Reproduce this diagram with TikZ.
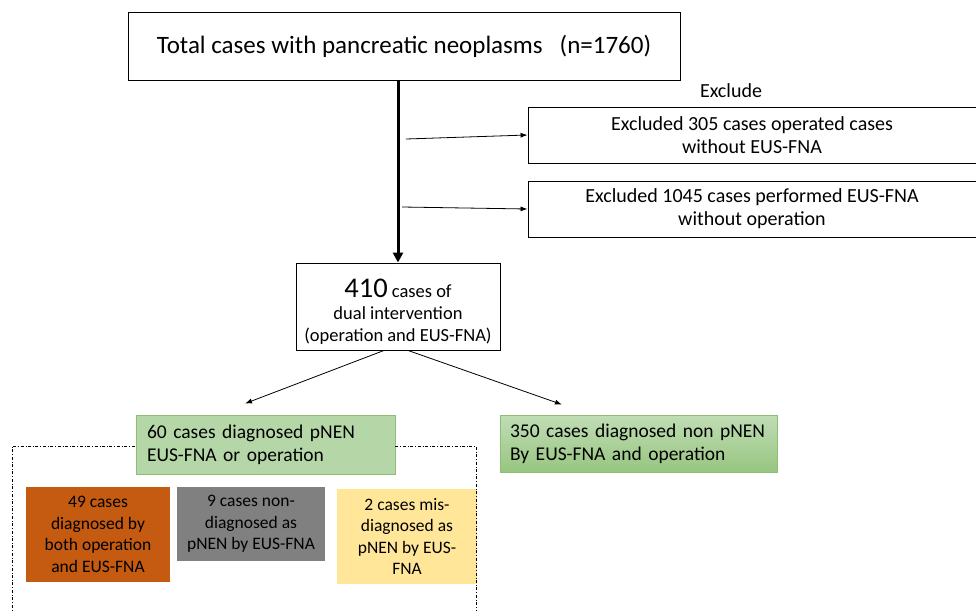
\documentclass[tikz,border=0pt]{standalone}
\usepackage{fontspec}
\setmainfont{Carlito}
\usetikzlibrary{arrows.meta}
\definecolor{pnengreen}{HTML}{B5D7A8}
\definecolor{pnenedge}{HTML}{8CBF72}
\definecolor{bothorange}{HTML}{C55A11}
\definecolor{nongray}{HTML}{808080}
\definecolor{misyellow}{HTML}{FFE699}
\tikzset{
  flowbox/.style={draw, line width=0.9pt, align=center, inner sep=0pt},
  greenbox/.style={draw=pnenedge, line width=0.9pt, align=left, anchor=center},
  casebox/.style={align=center, inner sep=0pt, font=\fontsize{17.5}{21.5}\selectfont},
  thinarrow/.style={-{Latex[length=7pt,width=5pt]}, line width=0.8pt},
}
\begin{document}
\begin{tikzpicture}[x=1pt,y=-1pt]
  \useasboundingbox (0,0) rectangle (976,610);
  \draw
    (404,46) node[flowbox, minimum width=552pt, minimum height=68pt,
      font=\fontsize{25}{28}\selectfont] (total){Total cases with pancreatic neoplasms\ \ \ (n=1760)}
    (731,91) node[font=\fontsize{20}{22}\selectfont] (exclude){Exclude}
    (752,135) node[flowbox, minimum width=448pt, minimum height=56pt,
      font=\fontsize{20}{23}\selectfont] (excla){Excluded 305 cases operated cases\\without EUS-FNA}
    (752,209) node[flowbox, minimum width=448pt, minimum height=56pt,
      font=\fontsize{20}{23}\selectfont] (exclb){Excluded 1045 cases performed EUS-FNA\\without operation}
    (398,306.5) node[flowbox, minimum width=204pt, minimum height=87pt,
      font=\fontsize{18.5}{22}\selectfont] (dual){\rule{0pt}{28pt}{\fontsize{28.5}{22}\selectfont 410} cases of\\dual intervention\\(operation and EUS-FNA)}
    (265.5,444.5) node[greenbox, fill=pnengreen, minimum height=59pt,
      text width=237pt, inner xsep=11pt, font=\fontsize{19.5}{23}\selectfont] (pnen){60 cases diagnosed pNEN\\EUS-FNA or operation}
    (638.5,443.5) node[greenbox, top color=pnengreen!85!white, bottom color=pnenedge!90!white,
      minimum height=57pt, text width=257pt, inner xsep=10pt,
      font=\fontsize{19.5}{23}\selectfont] (nonpnen){350 cases diagnosed non pNEN\\By EUS-FNA and operation}
    (98,534.5) node[casebox, fill=bothorange, minimum width=144pt, minimum height=95pt] (both){49 cases\\diagnosed by\\both operation\\and EUS-FNA}
    (251,524) node[casebox, fill=nongray, minimum width=148pt, minimum height=74pt] (nondiag){9 cases non-\\diagnosed as\\pNEN by EUS-FNA}
    (407,536.5) node[casebox, fill=misyellow, minimum width=140pt, minimum height=95pt] (misdiag){2 cases mis-\\diagnosed as\\pNEN by EUS-\\FNA};
  % dash-dot frame round the pNEN subgroups
  \draw[dash dot, line width=0.8pt] (12,615) -- (12,446) -- (pnen.west |- 0,446);
  \draw[dash dot, line width=0.8pt] (pnen.east |- 0,446) -- (476,446) -- (476,615);
  % main stream
  \draw[line width=3pt, -{Triangle[length=10pt,width=10pt]}] (dual.north |- total.south) -- (dual.north);
  \coordinate (froma) at (406,139);
  \coordinate (fromb) at (402,207);
  \draw[thinarrow] (froma) -- (excla.west);
  \draw[thinarrow] (fromb) -- (exclb.west);
  \draw[thinarrow] ([xshift=-14pt]dual.south) -- ([xshift=-20.5pt,yshift=11pt]pnen.north);
  \draw[thinarrow] ([xshift=10pt]dual.south) -- ([xshift=-76.5pt,yshift=10pt]nonpnen.north);
\end{tikzpicture}
\end{document}
